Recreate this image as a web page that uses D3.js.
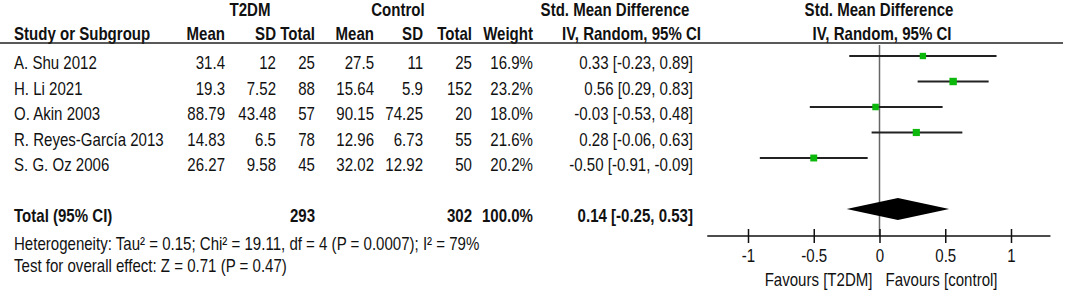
<!DOCTYPE html>
<html>
<head>
<meta charset="utf-8">
<script src="https://cdn.jsdelivr.net/npm/d3@7"></script>
<style>
  body { margin: 0; background: #fff; }
  svg text { font-family: "Liberation Sans", Arial, sans-serif; font-size: 17.5px; fill: #111; }
  .bold { font-weight: bold; }
</style>
</head>
<body>
<div id="chart-area"></div>
<script>
// study data
var studies   = ["A. Shu 2012", "H. Li 2021", "O. Akin 2003", "R. Reyes-García 2013", "S. G. Oz 2006"];
var t2dmMean  = [31.4, 19.3, 88.79, 14.83, 26.27];
var t2dmSD    = [12, 7.52, 43.48, 6.5, 9.58];
var t2dmN     = [25, 88, 57, 78, 45];
var ctrlMean  = [27.5, 15.64, 90.15, 12.96, 32.02];
var ctrlSD    = [11, 5.9, 74.25, 6.73, 12.92];
var ctrlN     = [25, 152, 20, 55, 50];
var weights   = [16.9, 23.2, 18.0, 21.6, 20.2];
var smd       = [0.33, 0.56, -0.03, 0.28, -0.50];
var ciLow     = [-0.23, 0.29, -0.53, -0.06, -0.91];
var ciHigh    = [0.89, 0.83, 0.48, 0.63, -0.09];

// pooled result
var totalN      = [293, 302];
var totalWeight = [100.0];
var pooled      = [0.14, -0.25, 0.53];  // estimate, low, high

var tickValues = [-1, -0.5, 0, 0.5, 1];
var tickLabels = ["-1", "-0.5", "0", "0.5", "1"];
var favours    = ["Favours [T2DM]", "Favours [control]"];
var heterogeneity = "Heterogeneity: Tau² = 0.15; Chi² = 19.11, df = 4 (P = 0.0007); I² = 79%";
var overall       = "Test for overall effect: Z = 0.71 (P = 0.47)";

// column right edges
var col = { name: 14, m1: 225, sd1: 276, n1: 315, m2: 374, sd2: 423, n2: 472, w: 533, ci: 693 };
var narrow = 0.86;  // squeeze Liberation Sans to look like Arial Narrow

var W = 1065, H = 291;
var svg = d3.select("#chart-area").append("svg")
    .attr("width", W)
    .attr("height", H);

// scales
var x = d3.scaleLinear().domain([-1, 1]).range([748, 1011]);
var y = d3.scaleLinear().domain([0, 6]).range([56, 209]);
var size = d3.scaleSqrt().domain([0, 25]).range([0, 7.7]);
var textOff = 13;

function txt(xp, yp, s, anchor, cls) {
    return svg.append("text")
        .attr("transform", "translate(" + xp + "," + yp + ") scale(" + narrow + ",1)")
        .attr("text-anchor", anchor || "start")
        .attr("class", cls || null)
        .text(s);
}

// headers
txt(250, 16, "T2DM", "middle", "bold");
txt(398, 16, "Control", "middle", "bold");
txt(615, 16, "Std. Mean Difference", "middle", "bold");
txt(879, 16, "Std. Mean Difference", "middle", "bold");

var hy = 40;
txt(col.name, hy, "Study or Subgroup", "start", "bold");
txt(col.m1, hy, "Mean", "end", "bold");
txt(col.sd1, hy, "SD", "end", "bold");
txt(col.n1, hy, "Total", "end", "bold");
txt(col.m2, hy, "Mean", "end", "bold");
txt(col.sd2, hy, "SD", "end", "bold");
txt(col.n2, hy, "Total", "end", "bold");
txt(col.w, hy, "Weight", "end", "bold");
txt(701, hy, "IV, Random, 95% CI", "end", "bold");
txt(882, hy, "IV, Random, 95% CI", "middle", "bold");

svg.append("line")
    .attr("x1", 0).attr("x2", 1063)
    .attr("y1", 43).attr("y2", 43)
    .attr("stroke", "#222").attr("stroke-width", 1.5);

// zero line
svg.append("line")
    .attr("x1", x(0)).attr("x2", x(0))
    .attr("y1", 45).attr("y2", 236)
    .attr("stroke", "#666").attr("stroke-width", 1.5);

// table rows
studies.forEach(function(s, i) {
    var yy = y(i) + textOff;
    txt(col.name, yy, s);
    txt(col.m1, yy, String(t2dmMean[i]), "end");
    txt(col.sd1, yy, String(t2dmSD[i]), "end");
    txt(col.n1, yy, String(t2dmN[i]), "end");
    txt(col.m2, yy, String(ctrlMean[i]), "end");
    txt(col.sd2, yy, String(ctrlSD[i]), "end");
    txt(col.n2, yy, String(ctrlN[i]), "end");
    txt(col.w, yy, weights[i].toFixed(1) + "%", "end");
    txt(col.ci, yy, smd[i].toFixed(2) + " [" + ciLow[i].toFixed(2) + ", " + ciHigh[i].toFixed(2) + "]", "end");
});

// CI lines and squares
svg.selectAll(".ci")
    .data(studies)
    .enter().append("line")
    .attr("class", "ci")
    .attr("x1", function(d, i) { return x(ciLow[i]); })
    .attr("x2", function(d, i) { return x(ciHigh[i]); })
    .attr("y1", function(d, i) { return y(i); })
    .attr("y2", function(d, i) { return y(i); })
    .attr("stroke", "#222").attr("stroke-width", 2);

svg.selectAll(".box")
    .data(studies)
    .enter().append("rect")
    .attr("class", "box")
    .attr("x", function(d, i) { return x(smd[i]) - size(weights[i]) / 2; })
    .attr("y", function(d, i) { return y(i) - size(weights[i]) / 2; })
    .attr("width", function(d, i) { return size(weights[i]); })
    .attr("height", function(d, i) { return size(weights[i]); })
    .attr("fill", "#0cb80c");

// total row
var ty = y(6) + textOff;
txt(col.name, ty, "Total (95% CI)", "start", "bold");
txt(col.n1, ty, String(totalN[0]), "end", "bold");
txt(col.n2, ty, String(totalN[1]), "end", "bold");
txt(col.w, ty, totalWeight[0].toFixed(1) + "%", "end", "bold");
txt(col.ci, ty, pooled[0].toFixed(2) + " [" + pooled[1].toFixed(2) + ", " + pooled[2].toFixed(2) + "]", "end", "bold");

var dh = 11;
svg.append("path")
    .attr("d", "M" + x(pooled[1]) + "," + y(6) +
               "L" + x(pooled[0]) + "," + (y(6) - dh) +
               "L" + x(pooled[2]) + "," + y(6) +
               "L" + x(pooled[0]) + "," + (y(6) + dh) + "Z")
    .attr("fill", "#000");

txt(col.name, 250, heterogeneity);
txt(col.name, 272, overall);

// axis
var axisY = 236;
var xAxis = d3.axisBottom(x)
    .tickValues(tickValues)
    .tickFormat(function(d, i) { return tickLabels[i]; })
    .tickSize(7);
var ax = svg.append("g")
    .attr("transform", "translate(0," + axisY + ")")
    .call(xAxis);
ax.attr("font-family", null).attr("font-size", null);
ax.select(".domain").remove();
ax.selectAll(".tick line").attr("y1", -7).attr("y2", 7).attr("stroke", "#111").attr("stroke-width", 1.5);
ax.selectAll(".tick text")
    .attr("y", null).attr("dy", null)
    .attr("transform", "translate(0,26) scale(" + narrow + ",1)")
    .attr("fill", "#111");

svg.append("line")
    .attr("x1", x(-1.31)).attr("x2", x(1.3))
    .attr("y1", axisY).attr("y2", axisY)
    .attr("stroke", "#111").attr("stroke-width", 1.5);

txt(x(0) - 7, 286, favours[0], "end");
txt(x(0) + 6, 286, favours[1], "start");
</script>
</body>
</html>
